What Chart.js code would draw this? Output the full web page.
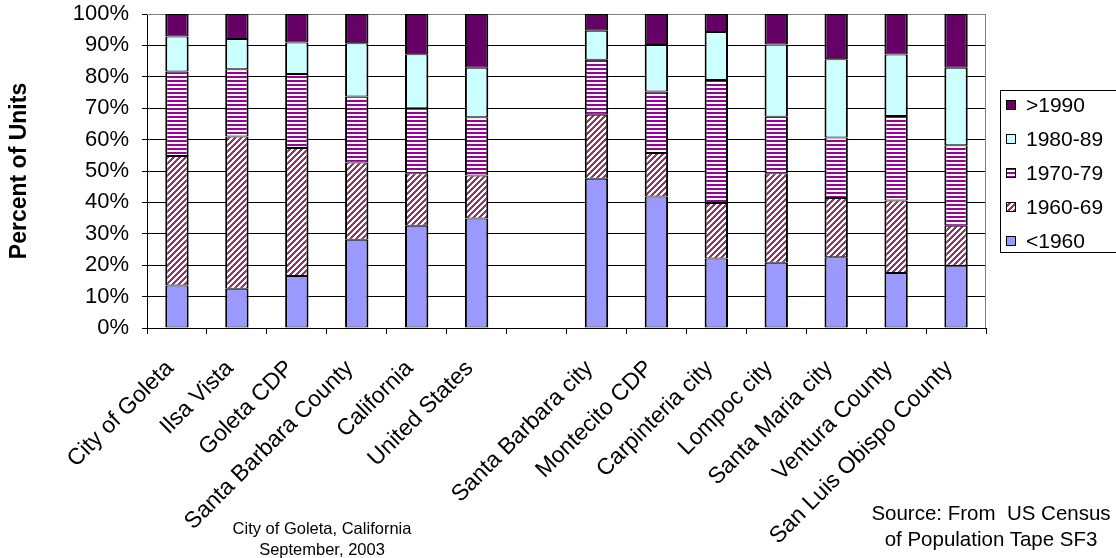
<!DOCTYPE html>
<html>
<head>
<meta charset="utf-8">
<script src="https://cdn.jsdelivr.net/npm/chart.js@4/dist/chart.umd.min.js"></script>
<style>
  body { margin: 0; background: #fff; }
  #wrap { position: relative; width: 1116px; height: 558px; font-family: "Liberation Sans", Arial, sans-serif; }
  .note { position: absolute; text-align: center; color: #000; white-space: pre; }
</style>
</head>
<body>
<div id="wrap">
  <canvas id="housingChart" width="1116" height="558"></canvas>
  <div class="note" style="left:222px; top:518px; width:200px; font-size:16.5px; line-height:21px;">City of Goleta, California
September, 2003</div>
  <div class="note" style="left:866px; top:500px; width:250px; font-size:20.5px; line-height:26px;">Source: From  US Census
of Population Tape SF3</div>
</div>
<script>
const categories = [
  'City of Goleta', 'Ilsa Vista', 'Goleta CDP', 'Santa Barbara County', 'California', 'United States', '',
  'Santa Barbara city', 'Montecito CDP', 'Carpinteria city', 'Lompoc city', 'Santa Maria city',
  'Ventura County', 'San Luis Obispo County',
];

// percent of housing units by year built
const before1960 = [13.5, 12.5, 16.6, 28.1, 32.6, 34.9, null, 47.5, 41.9, 22.1, 20.8, 22.5, 17.5, 19.8];
const built1960s = [41.3, 48.5, 40.7, 24.6, 16.7, 13.7, null, 20.4, 13.8, 17.7, 28.5, 18.9, 23.1, 12.8];
const built1970s = [26.9, 21.4, 23.6, 21.0, 20.7, 18.5, null, 17.5, 19.6, 39.2, 18.0, 19.3, 26.9, 25.6];
const built1980s = [11.1, 9.6, 10.0, 17.0, 17.2, 15.8, null, 9.3, 14.8, 15.3, 23.0, 24.9, 19.6, 24.7];
const after1990 = [7.2, 8.0, 9.1, 9.3, 12.8, 17.1, null, 5.3, 9.9, 5.7, 9.7, 14.4, 12.9, 17.1];

const yTicks = [0, 10, 20, 30, 40, 50, 60, 70, 80, 90, 100];

const FONT = '"Liberation Sans", Arial, sans-serif';

// hatch fills
const hStripes = () => {
  const c = document.createElement('canvas');
  c.width = 4; c.height = 4;
  const g = c.getContext('2d');
  g.fillStyle = '#ffffff';
  g.fillRect(0, 0, 4, 4);
  g.fillStyle = '#990099';
  g.fillRect(0, 0, 4, 2);
  return g.createPattern(c, 'repeat');
};

const diagStripes = () => {
  const c = document.createElement('canvas');
  c.width = 6; c.height = 6;
  const g = c.getContext('2d');
  g.fillStyle = '#ffffff';
  g.fillRect(0, 0, 6, 6);
  g.fillStyle = '#993366';
  for (let y = 0; y < 6; y++) {
    for (let k = 0; k < 3; k++) g.fillRect((5 - y + k) % 6, y, 1, 1);
  }
  return g.createPattern(c, 'repeat');
};

const fills = {
  before1960: '#9999ff',
  built1960s: diagStripes(),
  built1970s: hStripes(),
  built1980s: '#ccffff',
  after1990: '#660066',
};

const series = [
  { label: '<1960', data: before1960, backgroundColor: fills.before1960 },
  { label: '1960-69', data: built1960s, backgroundColor: fills.built1960s },
  { label: '1970-79', data: built1970s, backgroundColor: fills.built1970s },
  { label: '1980-89', data: built1980s, backgroundColor: fills.built1980s },
  { label: '>1990', data: after1990, backgroundColor: fills.after1990 },
];

// gray frame on top and right of plot area
const frame = {
  id: 'frame',
  beforeDatasetsDraw(chart) {
    const { ctx, chartArea: a } = chart;
    ctx.save();
    ctx.strokeStyle = '#808080';
    ctx.lineWidth = 1;
    ctx.beginPath();
    ctx.moveTo(a.left, a.top + 0.5);
    ctx.lineTo(a.right - 0.5, a.top + 0.5);
    ctx.lineTo(a.right - 0.5, a.bottom);
    ctx.stroke();
    ctx.restore();
  },
};

// boxed legend, newest first
const boxLegend = {
  id: 'boxLegend',
  afterDraw(chart) {
    const { ctx } = chart;
    const items = chart.data.datasets.slice().reverse();
    ctx.save();
    ctx.strokeStyle = '#000';
    ctx.lineWidth = 1;
    ctx.strokeRect(1000.5, 90.5, 130, 162);
    ctx.font = '21px ' + FONT;
    ctx.textBaseline = 'middle';
    items.forEach((ds, i) => {
      const cy = 105 + i * 34;
      ctx.fillStyle = ds.backgroundColor;
      ctx.fillRect(1006, cy - 5, 10, 10);
      ctx.strokeRect(1006.5, cy - 4.5, 9, 9);
      ctx.fillStyle = '#000';
      ctx.fillText(ds.label, 1026, cy + 1);
    });
    ctx.restore();
  },
};

const ctx = document.getElementById('housingChart').getContext('2d');

new Chart(ctx, {
  type: 'bar',
  data: {
    labels: categories,
    datasets: series.map((s) => ({
      ...s,
      borderColor: '#000',
      borderWidth: { top: 1, bottom: 1, left: 2, right: 2 },
      borderSkipped: false,
      categoryPercentage: 1,
      barPercentage: 0.39,
    })),
  },
  options: {
    responsive: false,
    animation: false,
    layout: { padding: { top: 14, right: 130, bottom: 0, left: 0 } },
    plugins: {
      legend: { display: false },
      tooltip: { enabled: false },
    },
    scales: {
      x: {
        stacked: true,
        offset: true,
        grid: {
          offset: true,
          drawOnChartArea: false,
          drawTicks: true,
          tickLength: 6,
          color: '#000',
        },
        border: { color: '#000' },
        ticks: {
          color: '#000',
          font: { family: FONT, size: 23 },
          maxRotation: 45,
          minRotation: 45,
          autoSkip: false,
          padding: 21,
          labelOffset: -7,
        },
        afterFit: (scale) => {
          scale.height = 230;
          scale.paddingLeft = 0;
          scale.paddingRight = 0;
        },
      },
      y: {
        stacked: true,
        min: 0,
        max: 100,
        afterBuildTicks: (scale) => { scale.ticks = yTicks.map((v) => ({ value: v })); },
        grid: {
          color: (c) => (c.tick && c.tick.value === 100 ? '#808080' : '#000'),
          tickColor: '#000',
          tickLength: 5,
        },
        border: { color: '#000' },
        ticks: {
          color: '#000',
          font: { family: FONT, size: 22 },
          padding: 13,
          callback: (v) => v + '%',
        },
        title: {
          display: true,
          text: 'Percent of Units',
          color: '#000',
          font: { family: FONT, size: 23, weight: 'bold' },
          padding: { top: 6, bottom: 0 },
        },
        afterFit: (scale) => {
          scale.width = 147;
          scale.paddingTop = 0;
          scale.paddingBottom = 0;
        },
      },
    },
  },
  plugins: [frame, boxLegend],
});
</script>
</body>
</html>
